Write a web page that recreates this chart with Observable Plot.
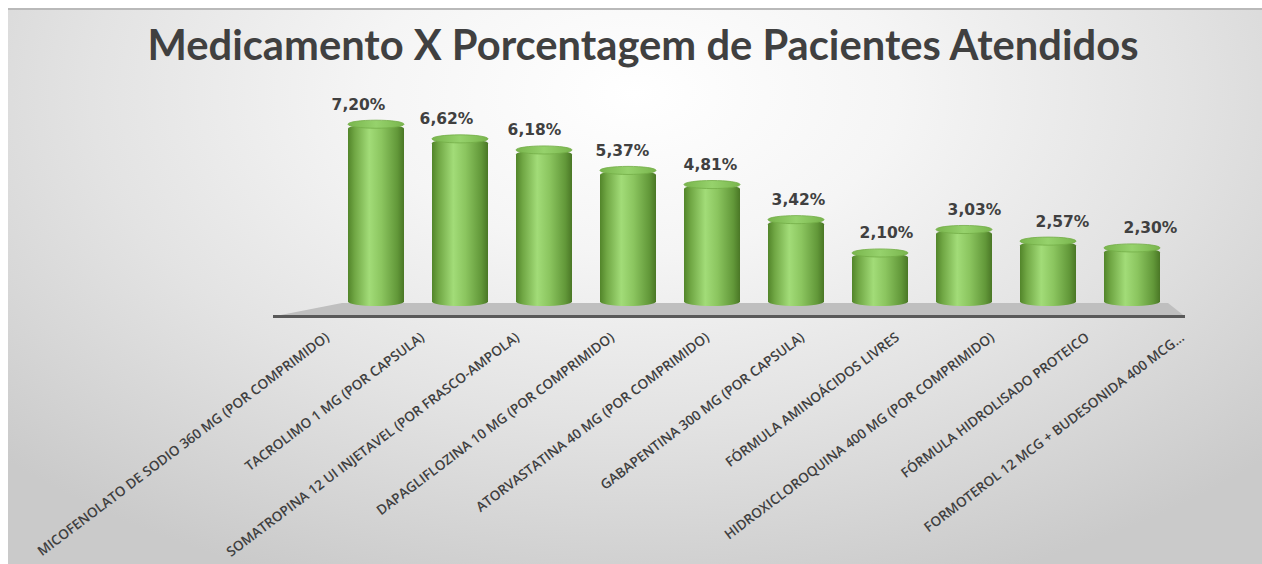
<!DOCTYPE html>
<html>
<head>
<meta charset="utf-8">
<script src="https://cdn.jsdelivr.net/npm/d3@7"></script>
<script src="https://cdn.jsdelivr.net/npm/@observablehq/plot@0.6"></script>
<style>
  html, body { margin: 0; padding: 0; background: #ffffff; }
  #chart { position: relative; width: 1262px; height: 564px; overflow: hidden; }
  #bg { position: absolute; left: 8px; top: 8px; right: 0; bottom: 0;
        border-top: 2px solid #b9b9b9;
        background: radial-gradient(ellipse 70% 95% at 50% 15%, #ffffff 0%, #f5f5f5 30%, #e3e3e3 62%, #cacaca 100%); }
  #title { position: absolute; left: 0; width: 1286px; top: 22px; text-align: center;
           font-family: Lato, "Open Sans", sans-serif; font-weight: 700; font-size: 41.7px; line-height: 44px; color: #404040; }
  .layer { position: absolute; left: 0; top: 0; }
</style>
</head>
<body>
<div id="chart">
  <div id="bg"></div>
  <div id="title">Medicamento X Porcentagem de Pacientes Atendidos</div>
</div>
<script>
// ---- data ----
const categories = [
  "MICOFENOLATO DE SODIO 360 MG (POR COMPRIMIDO)",
  "TACROLIMO 1 MG (POR CAPSULA)",
  "SOMATROPINA 12 UI INJETAVEL (POR FRASCO-AMPOLA)",
  "DAPAGLIFLOZINA 10 MG (POR COMPRIMIDO)",
  "ATORVASTATINA 40 MG (POR COMPRIMIDO)",
  "GABAPENTINA 300 MG (POR CAPSULA)",
  "FÓRMULA AMINOÁCIDOS LIVRES",
  "HIDROXICLOROQUINA 400 MG (POR COMPRIMIDO)",
  "FÓRMULA HIDROLISADO PROTEICO",
  "FORMOTEROL 12 MCG + BUDESONIDA 400 MCG..."
];
const values = [7.20, 6.62, 6.18, 5.37, 4.81, 3.42, 2.10, 3.03, 2.57, 2.30];

const data = categories.map((c, i) => ({cat: c, value: values[i]}));
const fmt = v => v.toFixed(2).replace(".", ",") + "%";

const W = 1262, H = 564;
const yDomain = [0, 8];
const common = {
  width: W, height: H, marginTop: 104, marginBottom: 258,
  y: {domain: yDomain, axis: null},
  style: {background: "transparent", overflow: "visible"}
};
const capH = 0.16;

// 3D floor (decoration derived from the scales/frame)
function floorMark(index, scales, values, dims) {
  const x0 = dims.marginLeft, x1 = dims.width - dims.marginRight;
  const yb = scales.y(0);
  const g = d3.create("svg:g");
  g.append("polygon")
    .attr("points", [[x0 - 58, yb + 10.5], [x1 + 7, yb + 10.5], [x1 - 10, yb - 3], [x0 + 11, yb - 3]].map(p => p.join(",")).join(" "))
    .attr("fill", "#bfbfbf");
  g.append("line")
    .attr("x1", x0 - 58).attr("x2", x1 + 7)
    .attr("y1", yb + 10.5).attr("y2", yb + 10.5)
    .attr("stroke", "#595959").attr("stroke-width", 3);
  return g.node();
}

// bars layer
const barPlot = Plot.plot({
  ...common,
  marginLeft: 331, marginRight: 84,
  x: {domain: categories, axis: null, paddingInner: 0.33, paddingOuter: 0.165},
  marks: [
    floorMark,
    Plot.barY(data, {x: "cat", y: "value", fill: "url(#cylBody)", rx: 30, ry: 4.5}),
    Plot.barY(data, {x: "cat", y1: d => d.value - capH, y2: d => d.value + capH,
      fill: "url(#cylCap)", stroke: "#74ad48", strokeWidth: 0.8, rx: 30, ry: 4})
  ]
});
d3.select(barPlot).insert("defs", ":first-child").html(`
  <linearGradient id="cylBody" x1="0" x2="1" y1="0" y2="0">
    <stop offset="0" stop-color="#52852a"/>
    <stop offset="0.12" stop-color="#70a744"/>
    <stop offset="0.38" stop-color="#a2dc78"/>
    <stop offset="0.6" stop-color="#8bc55f"/>
    <stop offset="0.88" stop-color="#629839"/>
    <stop offset="1" stop-color="#4a7726"/>
  </linearGradient>
  <linearGradient id="cylCap" x1="0" x2="1" y1="0" y2="0">
    <stop offset="0" stop-color="#79b54d"/>
    <stop offset="0.5" stop-color="#96d26c"/>
    <stop offset="1" stop-color="#79b54d"/>
  </linearGradient>`);
barPlot.classList.add("layer");

// value labels layer (point scale: label perspective spacing)
const valuePlot = Plot.plot({
  ...common,
  marginLeft: 357, marginRight: 111,
  x: {type: "point", domain: categories, axis: null, padding: 0},
  marks: [
    Plot.text(data, {x: "cat", y: "value", text: d => fmt(d.value), dy: -20, lineAnchor: "middle",
      fontFamily: "DejaVu Sans", fontWeight: "bold", fontSize: 15.5, fill: "#404040"})
  ]
});
valuePlot.classList.add("layer");

// category labels layer (front edge spacing)
const labelPlot = Plot.plot({
  width: W, height: H, marginTop: 100, marginBottom: 233,
  marginLeft: 320, marginRight: 80,
  x: {type: "point", domain: categories, axis: null, padding: 0},
  style: {background: "transparent", overflow: "visible"},
  marks: [
    Plot.text(categories, {x: d => d, frameAnchor: "bottom", rotate: -37, textAnchor: "end", lineAnchor: "top",
      fontFamily: "Open Sans", fontWeight: 600, fontSize: 13.6, fill: "#404040"})
  ]
});
labelPlot.classList.add("layer");

const chart = document.getElementById("chart");
chart.appendChild(barPlot);
chart.appendChild(valuePlot);
chart.appendChild(labelPlot);
</script>
</body>
</html>
